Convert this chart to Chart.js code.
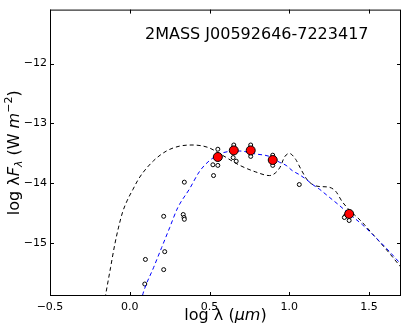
<!DOCTYPE html>
<html>
<head>
<meta charset="utf-8">
<script src="https://cdn.jsdelivr.net/npm/chart.js@4.4.0/dist/chart.umd.min.js"></script>
<style>
html,body{margin:0;padding:0;background:#fff}
</style>
</head>
<body>
<canvas id="sed" width="407" height="332"></canvas>
<script>
// tick values
const xTicks = [-0.5, 0.0, 0.5, 1.0, 1.5];
const yTicks = [-12, -13, -14, -15];

// photometry (log lambda, log lambda F_lambda)
const photX = [0.094, 0.098, 0.2125, 0.219, 0.2125, 0.335, 0.34, 0.342, 0.342, 0.552, 0.521, 0.552, 0.525,
  0.652, 0.648, 0.667, 0.758, 0.758, 0.896, 0.896, 1.0625, 1.35, 1.345, 1.375];
const photY = [-15.68, -15.27, -15.44, -15.14, -14.55, -14.52, -14.57, -14.60, -13.98, -13.43, -13.69, -13.70, -13.87,
  -13.36, -13.57, -13.63, -13.36, -13.55, -13.53, -13.70, -14.02, -14.55, -14.57, -14.62];

// averaged points (red)
const meanX = [0.552, 0.652, 0.758, 0.896, 1.375];
const meanY = [-13.56, -13.45, -13.45, -13.61, -14.51];

// black dashed model
const modelAX = [-0.17, -0.15, -0.12, -0.094, -0.07, -0.045, -0.015, 0.02, 0.05, 0.08, 0.15, 0.23, 0.31, 0.39, 0.49,
  0.58, 0.69, 0.79, 0.875, 0.94, 0.97, 1.0, 1.04, 1.07, 1.115, 1.18, 1.24, 1.29, 1.33, 1.375, 1.45, 1.52, 1.6, 1.7];
const modelAY = [-16.15, -15.84, -15.4, -15.02, -14.73, -14.48, -14.28, -14.1, -13.95, -13.83, -13.62, -13.46, -13.38,
  -13.36, -13.4, -13.53, -13.7, -13.81, -13.87, -13.74, -13.56, -13.5, -13.6, -13.75, -13.95, -14.05, -14.06, -14.13,
  -14.3, -14.44, -14.63, -14.84, -15.08, -15.4];

// blue dashed model
const modelBX = [0.06, 0.083, 0.15, 0.2, 0.25, 0.3, 0.375, 0.4375, 0.5, 0.583, 0.6875, 0.79, 0.875, 0.94, 0.98,
  1.02, 1.06, 1.104, 1.146, 1.19, 1.25, 1.31, 1.375, 1.458, 1.52, 1.6, 1.7];
const modelBY = [-16.1, -15.84, -15.4, -15.07, -14.74, -14.41, -14.09, -13.8, -13.62, -13.49, -13.46, -13.51, -13.55,
  -13.65, -13.7, -13.79, -13.85, -13.93, -14.02, -14.1, -14.23, -14.36, -14.51, -14.69, -14.85, -15.06, -15.35];

const FONT = 'DejaVu Sans';
const pts = (xs, ys) => xs.map((x, i) => ({x: x, y: ys[i]}));
const minus = s => String(s).replace('-', '\u2212');

// draw a run of text pieces [text, font, dy] centred on x
function drawRuns(ctx, runs, x, y) {
  let w = 0;
  runs.forEach(r => { ctx.font = r[1]; w += ctx.measureText(r[0]).width; });
  let cx = x - w / 2;
  runs.forEach(r => {
    ctx.font = r[1];
    ctx.fillText(r[0], cx, y + r[2]);
    cx += ctx.measureText(r[0]).width;
  });
}

const frame = {
  id: 'frame',
  afterDraw(chart) {
    const ctx = chart.ctx;
    const a = chart.chartArea;
    const xs = chart.scales.x, ys = chart.scales.y;
    ctx.save();
    ctx.strokeStyle = '#000';
    ctx.lineWidth = 1;
    ctx.strokeRect(a.left + 0.5, a.top + 0.5, a.right - a.left - 1, a.bottom - a.top - 1);
    ctx.beginPath();
    const tl = 4;
    xTicks.forEach(v => {
      const px = Math.round(xs.getPixelForValue(v)) + 0.5;
      ctx.moveTo(px, a.bottom); ctx.lineTo(px, a.bottom - tl);
      ctx.moveTo(px, a.top); ctx.lineTo(px, a.top + tl);
    });
    yTicks.forEach(v => {
      const py = Math.round(ys.getPixelForValue(v)) + 0.5;
      ctx.moveTo(a.left, py); ctx.lineTo(a.left + tl, py);
      ctx.moveTo(a.right, py); ctx.lineTo(a.right - tl, py);
    });
    ctx.stroke();

    ctx.fillStyle = '#000';
    ctx.textBaseline = 'alphabetic';
    ctx.textAlign = 'left';
    ctx.font = '16px "' + FONT + '"';
    ctx.fillText('2MASS J00592646-7223417', 145, 39);

    const n = '16px "' + FONT + '"';
    const it = 'italic 16px "' + FONT + '"';
    const sm = '11px "' + FONT + '"';
    const smi = 'italic 11px "' + FONT + '"';
    // x title
    drawRuns(ctx, [['log \u03bb (', n, 0], ['\u03bcm', it, 0], [')', n, 0]], (a.left + a.right) / 2, 320);
    // y title
    ctx.translate(19, (a.top + a.bottom) / 2);
    ctx.rotate(-Math.PI / 2);
    drawRuns(ctx, [['log \u03bb', n, 0], ['F', it, 0], ['\u03bb', smi, 3], [' (W ', n, 0], ['m', it, 0],
      ['\u22122', sm, -7], [')', n, 0]], 0, 0);
    ctx.restore();
  }
};

new Chart(document.getElementById('sed'), {
  type: 'scatter',
  data: {
    datasets: [
      {
        data: pts(meanX, meanY),
        pointRadius: 4.5,
        pointBackgroundColor: '#ff0000',
        pointBorderColor: '#000',
        pointBorderWidth: 1,
        showLine: false
      },
      {
        data: pts(modelBX, modelBY),
        showLine: true,
        borderColor: '#0000ff',
        borderWidth: 1,
        borderDash: [4, 3],
        pointRadius: 0,
        cubicInterpolationMode: 'monotone'
      },
      {
        data: pts(modelAX, modelAY),
        showLine: true,
        borderColor: '#000',
        borderWidth: 1,
        borderDash: [4, 3],
        pointRadius: 0,
        cubicInterpolationMode: 'monotone'
      },
      {
        data: pts(photX, photY),
        pointRadius: 2,
        pointBackgroundColor: '#fff',
        pointBorderColor: '#000',
        pointBorderWidth: 1,
        showLine: false
      }
    ]
  },
  options: {
    responsive: false,
    animation: false,
    events: [],
    layout: {padding: {left: 0, right: 6, top: 4, bottom: 0}},
    plugins: {legend: {display: false}, tooltip: {enabled: false}},
    scales: {
      x: {
        type: 'linear',
        min: -0.5,
        max: 1.7,
        afterBuildTicks: s => { s.ticks = xTicks.map(v => ({value: v})); },
        afterFit: s => { s.height = 36; },
        grid: {display: false, drawTicks: false},
        border: {display: false},
        ticks: {
          padding: 5,
          color: '#000',
          maxRotation: 0,
          font: {family: FONT, size: 11},
          callback: v => minus(v.toFixed(1))
        }
      },
      y: {
        type: 'linear',
        min: -15.88,
        max: -11.1,
        afterBuildTicks: s => { s.ticks = yTicks.map(v => ({value: v})); },
        afterFit: s => { s.width = 50; },
        grid: {display: false, drawTicks: false},
        border: {display: false},
        ticks: {
          padding: 3,
          color: '#000',
          font: {family: FONT, size: 11},
          callback: v => minus(v)
        }
      }
    }
  },
  plugins: [frame]
});
</script>
</body>
</html>
